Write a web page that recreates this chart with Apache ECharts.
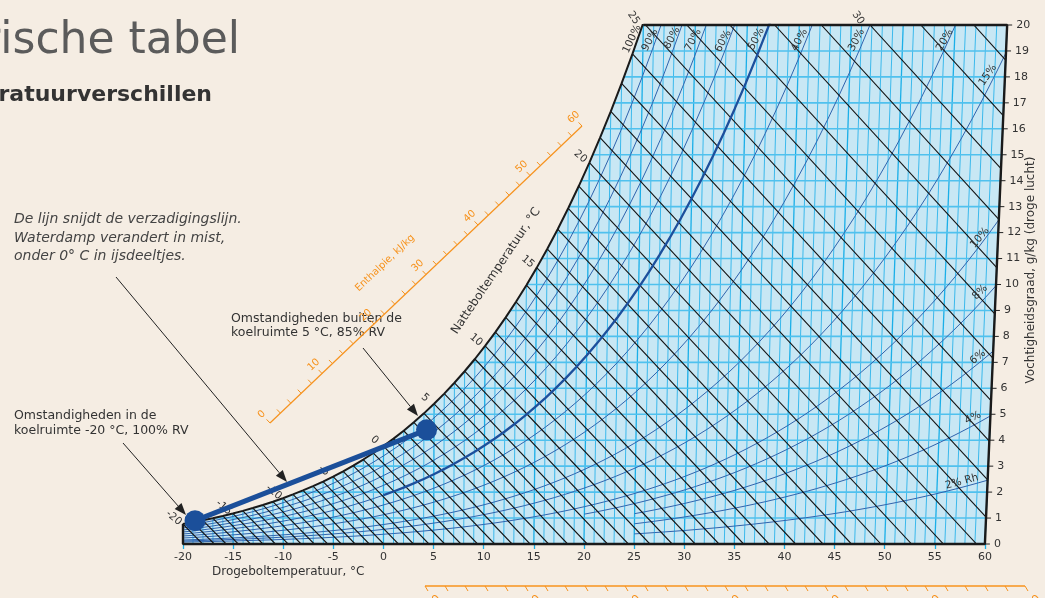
<!DOCTYPE html>
<html>
<head>
<meta charset="utf-8">
<script src="https://cdn.jsdelivr.net/npm/echarts@6/dist/echarts.min.js"></script>
<style>
  html, body { margin: 0; background: #f5ede3; }
  #chart { width: 1045px; height: 598px; }
</style>
</head>
<body>
<div id="chart"></div>
<script>
// saturation vapour pressure over water (kPa), -20 .. 60 °C, 1° steps
const satPressure = [
  0.1254, 0.1362, 0.1484, 0.1617, 0.1759, 0.1912, 0.2076, 0.2252, 0.2444, 0.2647,
  0.2866, 0.3102, 0.3352, 0.3620, 0.3906, 0.4214, 0.4541, 0.4896, 0.5275, 0.5680,
  0.6112, 0.6571, 0.7060, 0.7581, 0.8135, 0.8726, 0.9354, 1.0021, 1.0730, 1.1482,
  1.2282, 1.3130, 1.4028, 1.4981, 1.5990, 1.7058, 1.8188, 1.9384, 2.0647, 2.1983,
  2.3393, 2.4882, 2.6453, 2.8111, 2.9858, 3.1699, 3.3639, 3.5681, 3.7831, 4.0092,
  4.2470, 4.4969, 4.7596, 5.0354, 5.3251, 5.6290, 5.9479, 6.2823, 6.6328, 7.0002,
  7.3849, 7.7878, 8.2096, 8.6508, 9.1124, 9.5950, 10.099, 10.627, 11.177, 11.752,
  12.352, 12.978, 13.631, 14.312, 15.022, 15.762, 16.533, 17.336, 18.171, 19.041, 19.946
];
const firstTemp = -20;
const lastTemp = 60;

// relative humidity curves and the dry-bulb temp where each one starts
const rhLevels = [0.9, 0.8, 0.7, 0.6, 0.5, 0.4, 0.3, 0.2, 0.15, 0.1, 0.08, 0.06, 0.04, 0.02];
const rhFrom   = [-20, -20, -20, -20, -20, -20, -20, -20, -20, -20, 20, 25, 25, 25];
const boldRh = 0.5;
const boldFrom = 0;

// labels of the RH curves (placed in chart units)
const rhLabelText = ['100%', '90%', '80%', '70%', '60%', '50%', '40%', '30%', '20%', '15%', '10%', '8%', '6%', '4%', '2% Rh'];
const rhLabelX    = [24.8, 26.6, 28.8, 30.9, 33.9, 37.2, 41.5, 47.2, 56.0, 60.3, 59.5, 59.5, 59.3, 58.8, 57.7];
const rhLabelY    = [19.46, 19.42, 19.5, 19.42, 19.38, 19.46, 19.42, 19.42, 19.42, 18.07, 11.8, 9.7, 7.2, 4.86, 2.4];
const rhLabelRot  = [65, 62, 62, 62, 62, 62, 62, 62, 60, 55, 50, 45, 38, 25, 15];

const wetBulbFrom = -20;
const wetBulbTo = 35;
const wetBulbLabels = [-20, -15, -10, -5, 0, 5, 10, 15, 20];
const wetBulbTopLabels = [25, 30];

const xTicks = [-20, -15, -10, -5, 0, 5, 10, 15, 20, 25, 30, 35, 40, 45, 50, 55, 60];
const yTicks = [0, 1, 2, 3, 4, 5, 6, 7, 8, 9, 10, 11, 12, 13, 14, 15, 16, 17, 18, 19, 20];
const enthalpyLabels = [0, 10, 20, 30, 40, 50, 60];
const bottomEnthalpyLabels = [60, 70, 80, 90, 100, 110, 120, 130];

// cold room process: -20 °C 100% RV  ->  5 °C 85% RV
const processTemp = [-18.8, 4.3];
const processHum = [0.9, 4.4];

const BG = '#f5ede3';
const FONT = '"DejaVu Sans", sans-serif';

const P = 101.325;
function ps(t) { return satPressure[t - firstTemp]; }
function hum(t, phi) { const pv = phi * ps(t); return 622 * pv / (P - pv); }
// dry bulb isotherms lean slightly with humidity on this chart
function skewX(t, w) { return t * (1 + 0.00185 * w); }

function wetBulbLine(tw) {
  const ws = hum(tw, 1) / 1000;
  const a = (2501 - 2.326 * tw) * ws + 1.006 * tw;
  const tAt = W => (a - W * (2501 - 4.186 * tw)) / (1.006 + 1.86 * W);
  const w0 = Math.min(ws, 0.02);
  const t0 = ws > 0.02 ? tAt(0.02) : tw;
  if (t0 >= lastTemp) return null;
  let w1 = 0, t1 = tAt(0);
  if (t1 > lastTemp) {
    w1 = (a - 1.006 * lastTemp) / (2501 + 1.86 * lastTemp - 4.186 * tw);
    t1 = lastTemp;
  }
  return [skewX(t0, w0 * 1000), w0 * 1000, skewX(t1, w1 * 1000), w1 * 1000];
}

const temps = [];
for (let t = firstTemp; t <= lastTemp; t++) temps.push(t);

const satCurve = temps.filter(t => t <= 26).map(t => [skewX(t, hum(t, 1)), hum(t, 1)]);

function rhCurve(phi, from, to) {
  return temps.filter(t => t >= from && t <= to).map(t => {
    const w = hum(t, phi);
    return [skewX(t, w), w];
  });
}

const wetBulbData = [];
for (let tw = wetBulbFrom; tw <= wetBulbTo; tw++) {
  const l = wetBulbLine(tw);
  if (l) wetBulbData.push(l);
}

const series = [];

// light blue field
series.push({
  type: 'custom', z: 1, silent: true, data: [[0, 0]],
  renderItem(params, api) {
    const pts = [[firstTemp, 0], [firstTemp, 20], [skewX(lastTemp, 20), 20], [lastTemp, 0]].map(p => api.coord(p));
    return { type: 'polygon', shape: { points: pts }, style: { fill: '#c8e7f4' } };
  }
});

// isotherms
series.push({
  type: 'custom', z: 2, silent: true, clip: true,
  data: temps.map(t => [t]),
  renderItem(params, api) {
    const t = api.value(0);
    const p0 = api.coord([t, 0]);
    const p1 = api.coord([skewX(t, 20), 20]);
    return {
      type: 'line', shape: { x1: p0[0], y1: p0[1], x2: p1[0], y2: p1[1] },
      style: { stroke: t % 5 === 0 ? '#1aafe8' : '#3bb9ec', lineWidth: t % 5 === 0 ? 1.3 : 1 }
    };
  }
});

// humidity lines
series.push({
  type: 'custom', z: 2, silent: true, clip: true,
  data: yTicks.filter(w => w > 0 && w < 20).map(w => [0, w]),
  renderItem(params, api) {
    const w = api.value(1);
    const p0 = api.coord([firstTemp, w]);
    const p1 = api.coord([skewX(lastTemp, w), w]);
    return {
      type: 'line', shape: { x1: p0[0], y1: p0[1], x2: p1[0], y2: p1[1] },
      style: { stroke: '#4fc1ee', lineWidth: 1.6 }
    };
  }
});

// mask above the saturation line
series.push({
  type: 'line', z: 3, silent: true, symbol: 'none',
  data: satCurve,
  lineStyle: { width: 0 },
  areaStyle: { color: BG, opacity: 1, origin: 'end' }
});

// relative humidity curves
rhLevels.forEach((phi, i) => {
  if (phi === boldRh) {
    series.push({
      type: 'line', z: 4, silent: true, symbol: 'none',
      data: rhCurve(phi, rhFrom[i], boldFrom),
      lineStyle: { color: '#2f63ad', width: 1 }
    });
    series.push({
      type: 'line', z: 5, silent: true, symbol: 'none',
      data: rhCurve(phi, boldFrom, lastTemp),
      lineStyle: { color: '#1d4f9c', width: 2.3 }
    });
  } else {
    series.push({
      type: 'line', z: 4, silent: true, symbol: 'none',
      data: rhCurve(phi, rhFrom[i], lastTemp),
      lineStyle: { color: '#2f63ad', width: 1 }
    });
  }
});

// wet bulb lines
series.push({
  type: 'custom', z: 5, silent: true, clip: true,
  data: wetBulbData,
  encode: { x: [0, 2], y: [1, 3] },
  renderItem(params, api) {
    const p0 = api.coord([api.value(0), api.value(1)]);
    const p1 = api.coord([api.value(2), api.value(3)]);
    return {
      type: 'line', shape: { x1: p0[0], y1: p0[1], x2: p1[0], y2: p1[1] },
      style: { stroke: '#111', lineWidth: 1.1 }
    };
  }
});

// saturation line
series.push({
  type: 'line', z: 6, silent: true, symbol: 'none',
  data: satCurve,
  lineStyle: { color: '#1a1a1a', width: 2 }
});

// frame
series.push({
  type: 'line', z: 6, silent: true, symbol: 'none', clip: false,
  data: [[firstTemp, hum(firstTemp, 1)], [firstTemp, 0], [lastTemp, 0],
         [skewX(lastTemp, 20), 20], [skewX(25, 20), 20]],
  lineStyle: { color: '#1a1a1a', width: 2.4 }
});

// y tick marks and labels along the slanted right edge
series.push({
  type: 'custom', z: 6, silent: true, clip: false,
  data: yTicks.map(w => [0, w]),
  renderItem(params, api) {
    const w = api.value(1);
    const p = api.coord([skewX(lastTemp, w), w]);
    return {
      type: 'group', children: [
        { type: 'line', shape: { x1: p[0], y1: p[1], x2: p[0] + 5, y2: p[1] }, style: { stroke: '#222', lineWidth: 1 } },
        { type: 'text', x: p[0] + 9, y: p[1],
          style: { text: String(w), fill: '#333', font: '11px ' + FONT, textAlign: 'left', verticalAlign: 'middle', textVerticalAlign: 'middle' } }
      ]
    };
  }
});

// curve labels: anchor in chart units, nudge in pixels
const curveLabels = [];
rhLabelText.forEach((t, i) => {
  curveLabels.push({ pos: [rhLabelX[i], rhLabelY[i]], dx: 0, dy: 0, rot: rhLabelRot[i], text: t });
});
wetBulbLabels.forEach(tw => {
  const w = hum(tw, 1);
  curveLabels.push({ pos: [skewX(tw, w), w], dx: -9, dy: -6, rot: -40, text: String(tw) });
});
wetBulbTopLabels.forEach(tw => {
  const l = wetBulbLine(tw);
  curveLabels.push({ pos: [l[0], l[1]], dx: -12, dy: -7, rot: -55, text: String(tw) });
});
series.push({
  type: 'custom', z: 7, silent: true, clip: false,
  data: curveLabels.map(l => l.pos),
  renderItem(params, api) {
    const l = curveLabels[params.dataIndex];
    const p = api.coord([api.value(0), api.value(1)]);
    return {
      type: 'text', x: p[0] + l.dx, y: p[1] + l.dy, rotation: l.rot * Math.PI / 180,
      style: { text: l.text, font: '10.5px ' + FONT, fill: '#333', textAlign: 'center', verticalAlign: 'middle', textVerticalAlign: 'middle' }
    };
  }
});

// process line
series.push({
  type: 'line', z: 10, silent: true, clip: false,
  data: processTemp.map((t, i) => [t, processHum[i]]),
  symbol: 'circle', symbolSize: 21,
  itemStyle: { color: '#1b4f9a' },
  lineStyle: { color: '#1b4f9a', width: 5 }
});

// ---- graphic overlays (text, arrows, enthalpy rulers)
const graphics = [];
function txt(text, x, y, font, fill, align, rot) {
  graphics.push({ type: 'text', x: x, y: y, rotation: (rot || 0) * Math.PI / 180, z: 100,
    style: { text: text, font: font, fill: fill, textAlign: align || 'left', verticalAlign: 'middle', textVerticalAlign: 'middle' } });
}
function arrow(x1, y1, x2, y2) {
  const a = Math.atan2(y2 - y1, x2 - x1);
  const L = 12, W = 4.5;
  const bx = x2 - L * Math.cos(a), by = y2 - L * Math.sin(a);
  graphics.push({ type: 'line', z: 100, shape: { x1: x1, y1: y1, x2: bx, y2: by }, style: { stroke: '#222', lineWidth: 1 } });
  graphics.push({ type: 'polygon', z: 100,
    shape: { points: [[x2, y2], [bx + W * Math.sin(a), by - W * Math.cos(a)], [bx - W * Math.sin(a), by + W * Math.cos(a)]] },
    style: { fill: '#222' } });
}

txt('Psychrometrische tabel', 240, 42, '44px ' + FONT, '#5b5b5b', 'right');
txt('temperatuurverschillen', 212, 95, 'bold 22px ' + FONT, '#333', 'right');

txt('De lijn snijdt de verzadigingslijn.', 14, 219, 'italic 14px ' + FONT, '#444');
txt('Waterdamp verandert in mist,', 14, 238, 'italic 14px ' + FONT, '#444');
txt('onder 0° C in ijsdeeltjes.', 14, 256, 'italic 14px ' + FONT, '#444');

txt('Omstandigheden in de', 14, 416, '12.5px ' + FONT, '#333');
txt('koelruimte -20 °C, 100% RV', 14, 431, '12.5px ' + FONT, '#333');
txt('Omstandigheden buiten de', 231, 319, '12.5px ' + FONT, '#333');
txt('koelruimte 5 °C, 85% RV', 231, 333, '12.5px ' + FONT, '#333');

txt('Drogeboltemperatuur, °C', 212, 572, '12px ' + FONT, '#333');
txt('Vochtigheidsgraad, g/kg (droge lucht)', 1031, 270, '12px ' + FONT, '#333', 'center', 90);
txt('Natteboltemperatuur, °C', 496, 271, '12px ' + FONT, '#333', 'center', 56);

arrow(116, 277, 287, 482);
arrow(123, 443, 186, 515);
arrow(363, 348, 418, 416);

// diagonal enthalpy ruler
const ORANGE = '#f7931e';
const rs = [270, 423], re = [582, 126];
const rlen = Math.hypot(re[0] - rs[0], re[1] - rs[1]);
const ux = (re[0] - rs[0]) / rlen, uy = (re[1] - rs[1]) / rlen;
const nx = uy, ny = -ux;
const rAng = Math.atan2(rs[1] - re[1], re[0] - rs[0]) * 180 / Math.PI;
const hMax = enthalpyLabels[enthalpyLabels.length - 1];
graphics.push({ type: 'line', z: 100, shape: { x1: rs[0], y1: rs[1], x2: re[0], y2: re[1] }, style: { stroke: ORANGE, lineWidth: 1.2 } });
for (let h = 0; h <= hMax; h += 2) {
  const px = rs[0] + ux * rlen * h / hMax, py = rs[1] + uy * rlen * h / hMax;
  graphics.push({ type: 'line', z: 100, shape: { x1: px, y1: py, x2: px + nx * 5, y2: py + ny * 5 }, style: { stroke: ORANGE, lineWidth: 1 } });
}
enthalpyLabels.forEach(h => {
  const px = rs[0] + ux * rlen * h / hMax, py = rs[1] + uy * rlen * h / hMax;
  txt(String(h), px + nx * 12, py + ny * 12, '10px ' + FONT, ORANGE, 'center', rAng);
});
txt('Enthalpie, kJ/kg', 385, 263, '10px ' + FONT, ORANGE, 'center', rAng);

// horizontal enthalpy ruler at the bottom
const bx0 = 425, bx1 = 1025, by0 = 586;
const bStep = (bx1 - bx0) / (bottomEnthalpyLabels.length - 2) / 5;
graphics.push({ type: 'line', z: 100, shape: { x1: bx0, y1: by0, x2: bx1, y2: by0 }, style: { stroke: ORANGE, lineWidth: 1.3 } });
for (let x = bx0; x <= bx1 + 0.1; x += bStep) {
  graphics.push({ type: 'line', z: 100, shape: { x1: x, y1: by0, x2: x + 3, y2: by0 + 5 }, style: { stroke: ORANGE, lineWidth: 1 } });
}
bottomEnthalpyLabels.slice(0, -1).forEach((h, i) => {
  txt(String(h), bx0 + i * bStep * 5 + 14, 597, '11px ' + FONT, ORANGE, 'right', 45);
});

const chart = echarts.init(document.getElementById('chart'));
chart.setOption({
  backgroundColor: BG,
  animation: false,
  grid: { left: 183, right: 20, top: 25, bottom: 54 },
  xAxis: {
    type: 'value', min: -20, max: 64,
    axisLine: { show: false },
    splitLine: { show: false },
    axisTick: { show: true, length: 5, customValues: xTicks, lineStyle: { color: '#1aafe8', width: 1.3 } },
    axisLabel: { color: '#333', fontSize: 11, fontFamily: FONT, margin: 8, customValues: xTicks }
  },
  yAxis: { type: 'value', min: 0, max: 20, show: false },
  series: series,
  graphic: graphics
});
</script>
</body>
</html>
